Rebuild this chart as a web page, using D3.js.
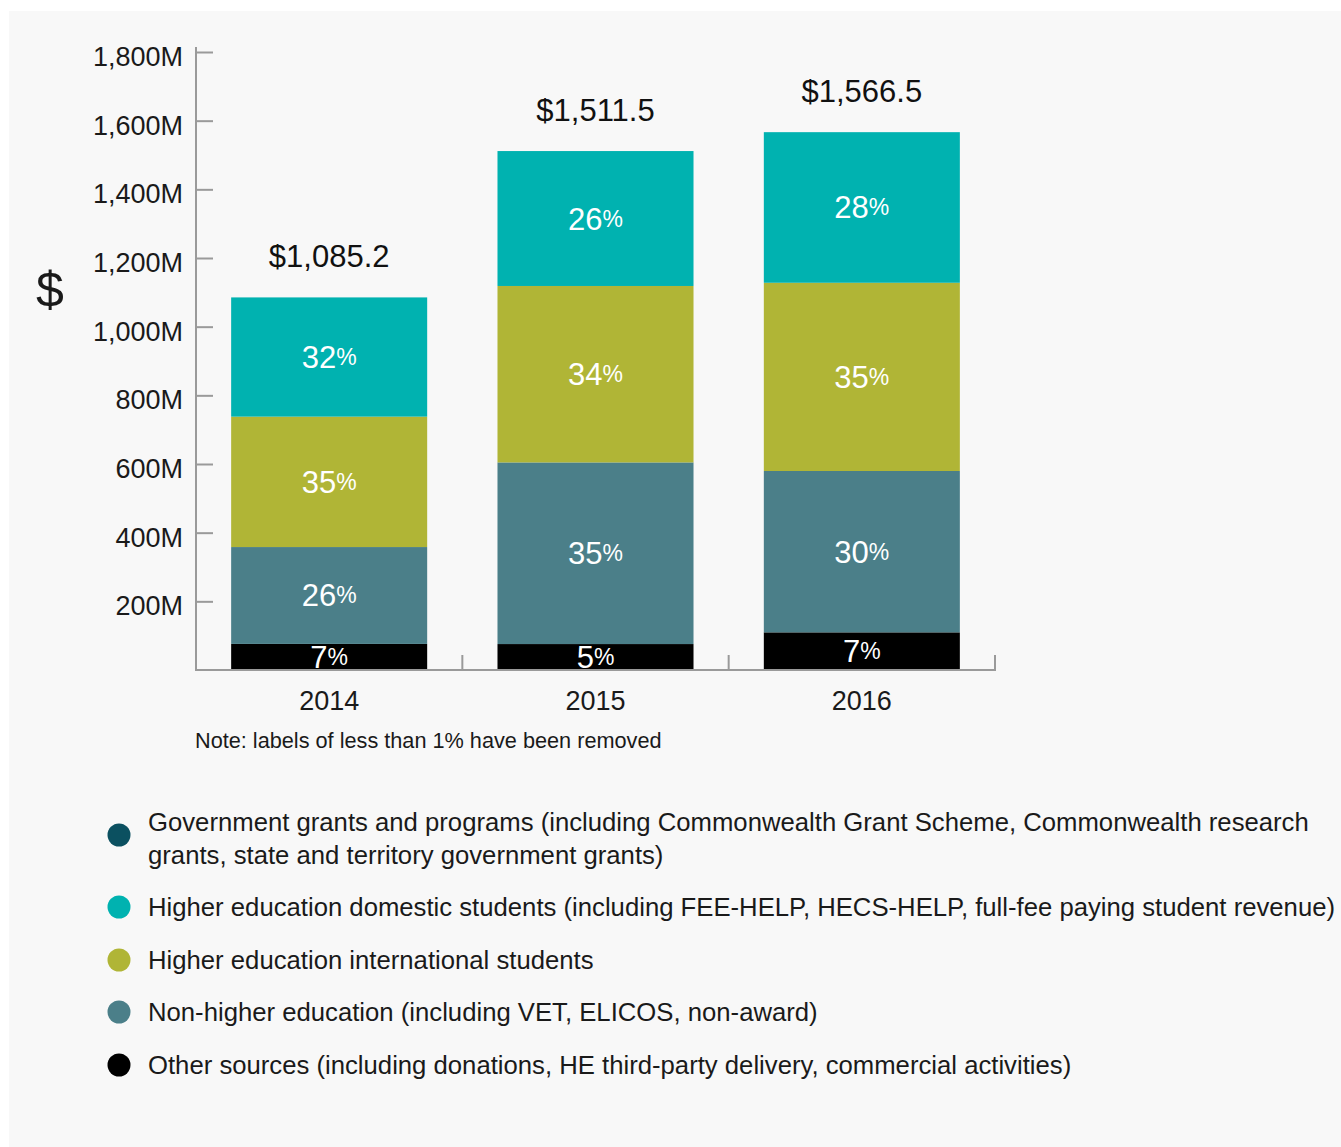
<!DOCTYPE html>
<html>
<head>
<meta charset="utf-8">
<script src="https://cdn.jsdelivr.net/npm/d3@7"></script>
<style>
  body { margin: 0; background: #ffffff; }
  svg { display: block; font-family: "Liberation Sans", Arial, Helvetica, sans-serif; }
</style>
</head>
<body>
<svg id="chart" width="1341" height="1147"></svg>
<script>
// Revenue by source, stacked per year ($ millions)
const years = ["2014", "2015", "2016"];
const totals = [1085.2, 1511.5, 1566.5];

// Share of each year's total, in percent
const otherPct = [7, 5, 7];
const nonHigherPct = [26, 35, 30];
const internationalPct = [35, 34, 35];
const domesticPct = [32, 26, 28];
const governmentPct = [0, 0, 0];

const yTickValues = [200, 400, 600, 800, 1000, 1200, 1400, 1600, 1800];

const seriesKeys = ["other", "nonHigher", "international", "domestic", "government"];
const seriesPct = {
  other: otherPct,
  nonHigher: nonHigherPct,
  international: internationalPct,
  domestic: domesticPct,
  government: governmentPct
};
const seriesColors = {
  government: "#0b5060",
  domestic: "#00b2b0",
  international: "#b0b536",
  nonHigher: "#4b7f89",
  other: "#000000"
};

// Legend entries, top to bottom (each entry may span several lines)
const legendKeys = ["government", "domestic", "international", "nonHigher", "other"];
const legendLines = [
  ["Government grants and programs (including Commonwealth Grant Scheme, Commonwealth research",
   "grants, state and territory government grants)"],
  ["Higher education domestic students (including FEE-HELP, HECS-HELP, full-fee paying student revenue)"],
  ["Higher education international students"],
  ["Non-higher education (including VET, ELICOS, non-award)"],
  ["Other sources (including donations, HE third-party delivery, commercial activities)"]
];

const svg = d3.select("#chart");

// light panel behind everything
svg.append("rect")
  .attr("x", 9).attr("y", 11)
  .attr("width", 1341 - 9).attr("height", 1147 - 11)
  .attr("fill", "#f8f8f8");

const rows = years.map((yr, i) => {
  const r = { year: yr, total: totals[i] };
  seriesKeys.forEach(k => { r[k] = totals[i] * seriesPct[k][i] / 100; r[k + "Pct"] = seriesPct[k][i]; });
  return r;
});

const x = d3.scaleBand()
  .domain(years)
  .range([196, 995])
  .paddingInner(0.264)
  .paddingOuter(0.132);

const y = d3.scaleLinear()
  .domain([0, 1800])
  .range([670, 52]);

const axisColor = "#9a9a9a";
const textColor = "#1a1a1a";

// Y axis: ticks point inward, labels on the left
const yAxis = d3.axisLeft(y)
  .tickValues(yTickValues)
  .tickSize(-17)
  .tickPadding(13)
  .tickFormat(d => d3.format(",")(d) + "M");

const gy = svg.append("g").attr("transform", "translate(196,0)").call(yAxis);
gy.select(".domain").remove();
gy.selectAll(".tick line").attr("stroke", axisColor).attr("stroke-width", 2);
gy.selectAll(".tick text")
  .attr("fill", textColor)
  .attr("font-size", 27)
  .attr("font-family", "\"Liberation Sans\", Arial, sans-serif")
  .attr("dy", "0.5em");

svg.append("line")
  .attr("x1", 196).attr("x2", 196)
  .attr("y1", y(1800) - 5).attr("y2", y(0) + 1)
  .attr("stroke", axisColor).attr("stroke-width", 2);

// Axis title
svg.append("text")
  .attr("x", 50).attr("y", 290)
  .attr("text-anchor", "middle")
  .attr("dominant-baseline", "central")
  .attr("font-size", 50)
  .attr("font-weight", 300)
  .attr("fill", textColor)
  .text("$");

// Stacked bars
const stack = d3.stack().keys(seriesKeys);
const stacked = stack(rows);

const layers = svg.append("g").selectAll("g")
  .data(stacked)
  .join("g")
  .attr("fill", d => seriesColors[d.key]);

layers.selectAll("rect")
  .data(d => d.map(p => ({ key: d.key, p })))
  .join("rect")
  .attr("x", d => x(d.p.data.year))
  .attr("width", x.bandwidth())
  .attr("y", d => y(d.p[1]))
  .attr("height", d => y(d.p[0]) - y(d.p[1]));

// Percentage labels inside segments (shares below 1% are left unlabelled)
const segLabels = svg.append("g").selectAll("text")
  .data(stacked.flatMap(s => s.map(p => ({ key: s.key, p, pct: p.data[s.key + "Pct"] }))).filter(d => d.pct >= 1))
  .join("text")
  .attr("x", d => x(d.p.data.year) + x.bandwidth() / 2)
  .attr("y", d => (y(d.p[0]) + y(d.p[1])) / 2)
  .attr("text-anchor", "middle")
  .attr("dominant-baseline", "central")
  .attr("fill", "#ffffff");
segLabels.append("tspan").attr("font-size", 31).text(d => d.pct);
segLabels.append("tspan").attr("font-size", 23).text("%");

// Totals above each bar
svg.append("g").selectAll("text")
  .data(rows)
  .join("text")
  .attr("x", d => x(d.year) + x.bandwidth() / 2)
  .attr("y", d => y(d.total) - 30)
  .attr("text-anchor", "middle")
  .attr("font-size", 31)
  .attr("fill", "#111111")
  .text(d => "$" + d3.format(",.1f")(d.total));

// X axis: baseline with upward ticks at band boundaries
const gx = svg.append("g").attr("transform", "translate(0,670)")
  .call(d3.axisBottom(x).tickSize(0).tickPadding(21));
gx.select(".domain").remove();
gx.selectAll(".tick text")
  .attr("font-size", 27)
  .attr("fill", textColor)
  .attr("font-family", "\"Liberation Sans\", Arial, sans-serif");

svg.append("line")
  .attr("x1", 195).attr("x2", 996)
  .attr("y1", 670).attr("y2", 670)
  .attr("stroke", axisColor).attr("stroke-width", 2);

const boundaries = years.map(yr => x(yr) - x.step() * x.paddingInner() / 2 + x.step());
svg.append("g").selectAll("line")
  .data(boundaries)
  .join("line")
  .attr("x1", d => d).attr("x2", d => d)
  .attr("y1", 670).attr("y2", 655)
  .attr("stroke", axisColor).attr("stroke-width", 2);

// Note
svg.append("text")
  .attr("x", 195).attr("y", 748)
  .attr("font-size", 21.7)
  .attr("fill", textColor)
  .text("Note: labels of less than 1% have been removed");

// Legend
const legendTop = [822, 907, 960, 1012, 1065];
const legend = svg.append("g").selectAll("g")
  .data(legendKeys.map((k, i) => ({ key: k, lines: legendLines[i], y: legendTop[i] })))
  .join("g");

legend.append("circle")
  .attr("cx", 119)
  .attr("cy", d => d.lines.length > 1 ? d.y + 13 : d.y)
  .attr("r", 11.5)
  .attr("fill", d => seriesColors[d.key]);

legend.append("text")
  .attr("x", 148)
  .attr("y", d => d.y)
  .attr("dominant-baseline", "central")
  .attr("font-size", 25.7)
  .attr("fill", textColor)
  .selectAll("tspan")
  .data(d => d.lines)
  .join("tspan")
  .attr("x", 148)
  .attr("dy", (d, i) => i === 0 ? 0 : 33)
  .text(d => d);
</script>
</body>
</html>
